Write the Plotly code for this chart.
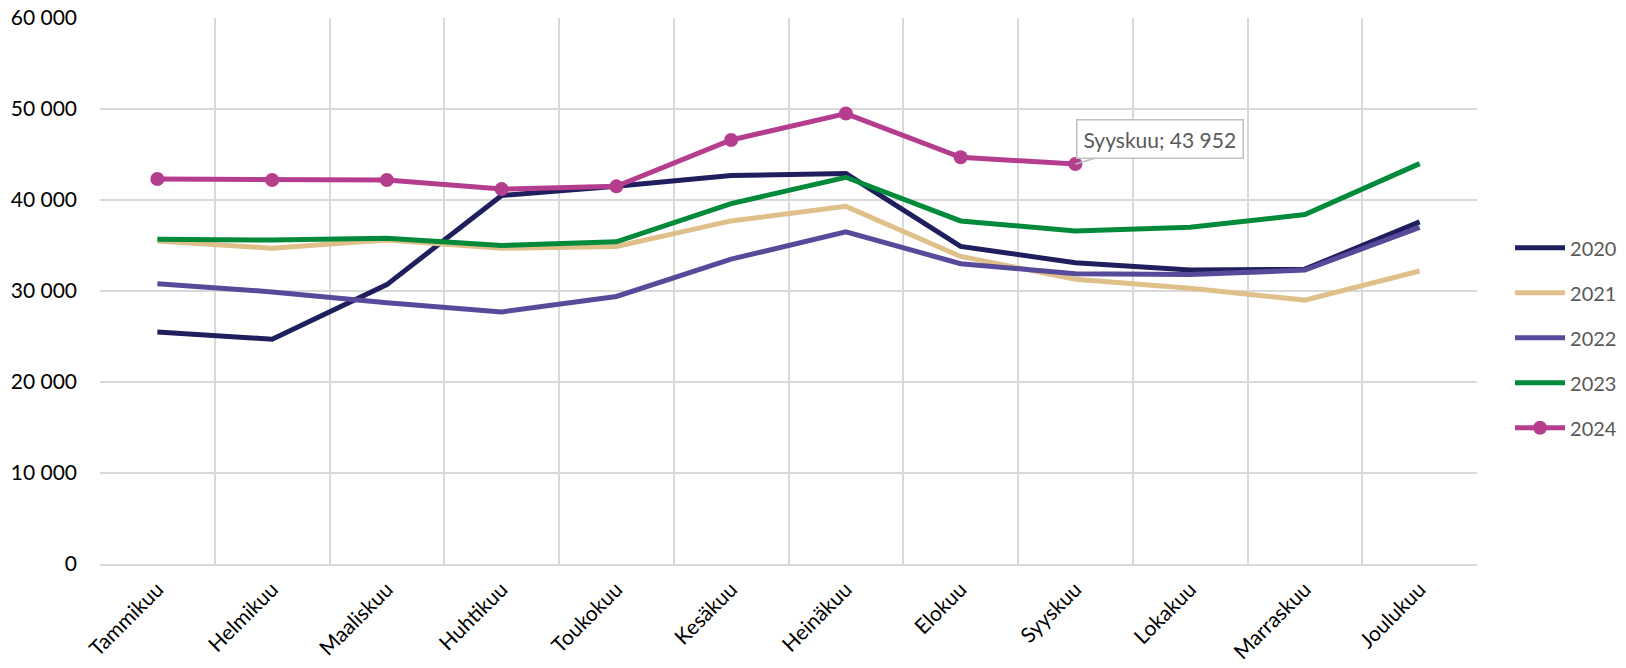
import plotly.graph_objects as go

months = ["Tammikuu", "Helmikuu", "Maaliskuu", "Huhtikuu", "Toukokuu", "Kesäkuu",
          "Heinäkuu", "Elokuu", "Syyskuu", "Lokakuu", "Marraskuu", "Joulukuu"]

y2020 = [25500, 24700, 30700, 40500, 41500, 42700, 42900, 34900, 33100, 32300, 32400, 37600]
y2021 = [35500, 34700, 35600, 34700, 34900, 37700, 39300, 33800, 31300, 30300, 29000, 32200]
y2022 = [30800, 29900, 28700, 27700, 29400, 33500, 36500, 33000, 31900, 31800, 32300, 37000]
y2023 = [35700, 35600, 35800, 35000, 35400, 39600, 42500, 37700, 36600, 37000, 38400, 44000]
y2024 = [42300, 42200, 42200, 41200, 41500, 46600, 49500, 44700, 43952]

series = [
    ("2020", y2020, "#201F5E", False),
    ("2021", y2021, "#DFC08A", False),
    ("2022", y2022, "#574A9B", False),
    ("2023", y2023, "#008A3A", False),
    ("2024", y2024, "#B53D8E", True),
]

fig = go.Figure()
for name, vals, color, markers in series:
    fig.add_trace(go.Scatter(
        x=months[:len(vals)], y=vals, name=name, legendgroup=name,
        mode="lines+markers" if markers else "lines",
        line=dict(color=color, width=5),
        marker=dict(size=14, color=color) if markers else None,
    ))

grid = "#D9D9D9"
label_idx = 8
label_val = y2024[label_idx]
label_text = f"{months[label_idx]}; {label_val:,}".replace(",", " ")

fig.add_annotation(
    x=months[label_idx], y=label_val, text=label_text,
    showarrow=True, arrowhead=0, arrowwidth=1.5, arrowcolor="#BFBFBF",
    ax=85, ay=-25, font=dict(family="Lato", size=21, color="#595959"),
    bordercolor="#BFBFBF", borderwidth=1.5, borderpad=6, bgcolor="white",
)

fig.update_layout(
    width=1626, height=668,
    margin=dict(l=100, r=149, t=18, b=104, autoexpand=False),
    paper_bgcolor="white", plot_bgcolor="white",
    separators=", ",
    font=dict(family="Lato", color="#000000"),
    legend=dict(
        x=1.024, xanchor="left", y=0.615, yanchor="top",
        font=dict(family="Lato", size=20, color="#595959"),
        tracegroupgap=16, itemwidth=50, bgcolor="rgba(0,0,0,0)",
    ),
    showlegend=True,
)
fig.update_xaxes(
    type="category", tickson="boundaries", showgrid=True, gridcolor=grid, gridwidth=1.5,
    showline=True, linecolor=grid, linewidth=1.5, tickangle=-45,
    ticks="", tickfont=dict(family="Lato", size=21, color="#000000"),
    ticklabelstandoff=3, range=[-0.5, 11.5], automargin=False,
)
fig.update_yaxes(
    range=[0, 60000], dtick=10000, tickformat=",d", showgrid=True, gridcolor=grid,
    gridwidth=1.5, zeroline=True, zerolinecolor=grid, zerolinewidth=1.5,
    ticks="", tickfont=dict(family="Lato", size=21, color="#000000"),
    ticklabelstandoff=22, automargin=False,
)

fig.write_html("out.html", config={"displayModeBar": False},
               post_script="document.body.style.margin='0';")
